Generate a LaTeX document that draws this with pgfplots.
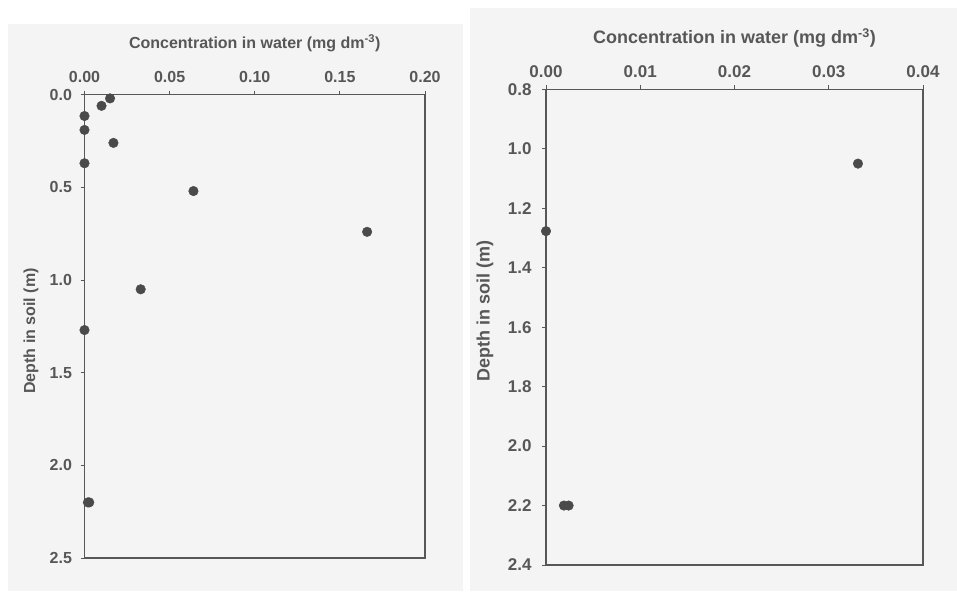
\documentclass[border=0pt]{standalone}
\usepackage{pgfplots}
\pgfplotsset{compat=1.18}
\usepackage{fontspec}
\setmainfont{Liberation Sans}
\definecolor{panel}{HTML}{F4F4F4}
\definecolor{ink}{HTML}{575757}
\definecolor{dot}{HTML}{4A4A4A}
\pgfplotsset{
  soil/.style={
    scale only axis, anchor=south west, clip=false,
    y dir=reverse,
    xtick pos=right, ytick pos=left, xticklabel pos=right,
    tick align=outside, major tick length=4pt,
    tick style={ink, line width=0.8pt},
    axis line style={ink, line width=1.2pt},
    /pgf/number format/assume math mode=true,
    xticklabel style={/pgf/number format/fixed, /pgf/number format/fixed zerofill, /pgf/number format/precision=2},
    yticklabel style={/pgf/number format/fixed, /pgf/number format/fixed zerofill, /pgf/number format/precision=1},
    scaled x ticks=false, scaled y ticks=false,
  }
}
\begin{document}
\begin{tikzpicture}[x=1pt,y=1pt]
\fill[white] (0,0) rectangle (957,591);
\fill[panel] (8,0) rectangle (463,567);
\fill[panel] (470,0) rectangle (957,583);
\begin{axis}[soil,
  at={(84.5pt,33pt)}, width=340.5pt, height=463.3pt,
  xmin=0, xmax=0.2, ymin=0, ymax=2.5,
  xtick={0,0.05,0.1,0.15,0.2},
  ytick={0,0.5,1,1.5,2,2.5},
  ticklabel style={font=\fontsize{16}{19}\selectfont\bfseries, text=ink},
  xticklabel style={yshift=5pt},
  yticklabel style={xshift=-5pt},
  xlabel={Concentration in water (mg dm\textsuperscript{-3})},
  ylabel={Depth in soil (m)},
  label style={font=\fontsize{16}{19}\selectfont\bfseries, text=ink},
  xlabel style={at={(axis description cs:0.5,1)}, anchor=center, yshift=51.4pt},
  ylabel style={at={(axis description cs:0,0.49)}, anchor=center, yshift=53.5pt},
]
\addplot[only marks, mark=*, mark size=4.8pt, dot, mark options={draw=dot, fill=dot}] coordinates {
  (0.015,0.02) (0.010,0.06) (0,0.115) (0,0.19) (0.017,0.26) (0,0.37)
  (0.064,0.52) (0.166,0.74) (0.033,1.05) (0,1.27) (0.002,2.2) (0.0028,2.2)
};
\end{axis}
\begin{axis}[soil,
  at={(546pt,26pt)}, width=377pt, height=475.7pt,
  xmin=0, xmax=0.04, ymin=0.8, ymax=2.4,
  xtick={0,0.01,0.02,0.03,0.04},
  ytick={0.8,1.0,1.2,1.4,1.6,1.8,2.0,2.2,2.4},
  ticklabel style={font=\fontsize{17}{20}\selectfont\bfseries, text=ink},
  xticklabel style={yshift=4pt},
  yticklabel style={xshift=-7pt},
  xlabel={Concentration in water (mg dm\textsuperscript{-3})},
  ylabel={Depth in soil (m)},
  label style={font=\fontsize{18}{21}\selectfont\bfseries, text=ink},
  xlabel style={at={(axis description cs:0.5,1)}, anchor=center, yshift=51.6pt},
  ylabel style={at={(axis description cs:0,0.534)}, anchor=center, yshift=61pt},
]
\addplot[only marks, mark=*, mark size=4.8pt, dot, mark options={draw=dot, fill=dot}] coordinates {
  (0.0331,1.05) (0,1.277) (0.0019,2.2) (0.0024,2.2)
};
\end{axis}
\end{tikzpicture}
\end{document}
